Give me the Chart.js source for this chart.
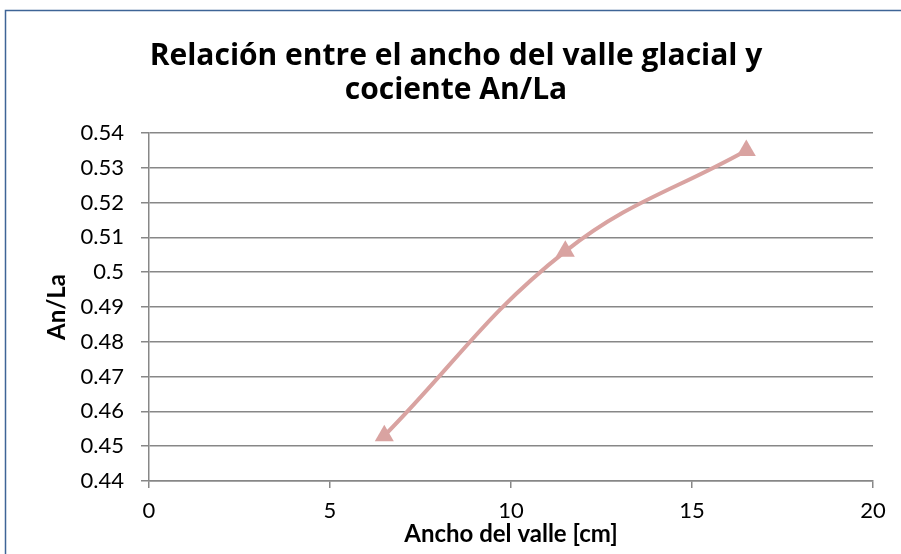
<!DOCTYPE html>
<html>
<head>
<meta charset="utf-8">
<script src="https://cdn.jsdelivr.net/npm/chart.js@4"></script>
<style>
  html, body { margin: 0; padding: 0; background: #fff; }
  #wrap { width: 901px; height: 554px; }
</style>
</head>
<body>
<div id="wrap"><canvas id="chart" width="901" height="554"></canvas></div>
<script>
// data
const anchoValle = [6.5, 11.5, 16.5];
const cociente = [0.453, 0.506, 0.535];
const xTicks = [0, 5, 10, 15, 20];
const yTicks = [0.44, 0.45, 0.46, 0.47, 0.48, 0.49, 0.5, 0.51, 0.52, 0.53, 0.54];

const lineColor = "#D9A3A1";
const gridColor = "#878787";

// outer frame like the spreadsheet chart box
const framePlugin = {
  id: "frame",
  beforeDraw(chart) {
    const ctx = chart.ctx;
    ctx.save();
    ctx.strokeStyle = "#3E6496";
    ctx.lineWidth = 1.5;
    ctx.strokeRect(5.5, 10.5, 2000, 2000);
    ctx.restore();
  },
};

const ctx = document.getElementById("chart").getContext("2d");
new Chart(ctx, {
  type: "line",
  data: {
    datasets: [
      {
        label: "An/La",
        data: anchoValle.map((x, i) => ({ x: x, y: cociente[i] })),
        borderColor: lineColor,
        backgroundColor: lineColor,
        borderWidth: 4,
        tension: 0.4,
        pointStyle: "triangle",
        pointRadius: 11,
        pointBorderWidth: 0,
      },
    ],
  },
  options: {
    responsive: false,
    animation: false,
    layout: { padding: { top: 30, left: 39, right: 28, bottom: 3 } },
    plugins: {
      legend: { display: false },
      tooltip: { enabled: false },
      title: {
        display: true,
        text: ["Relación entre el ancho del valle glacial y", "cociente An/La"],
        color: "#000",
        font: { family: "Open Sans", size: 30, weight: "bold", lineHeight: 1.15 },
        padding: { top: 9, bottom: 25 },
      },
    },
    scales: {
      x: {
        type: "linear",
        min: 0,
        max: 20,
        afterBuildTicks: (scale) => { scale.ticks = xTicks.map((v) => ({ value: v })); },
        afterFit: (scale) => { scale.height = 70; },
        ticks: {
          color: "#000",
          font: { family: "Lato", size: 22 },
          padding: 10,
          maxRotation: 0,
        },
        grid: { drawOnChartArea: false, color: gridColor, lineWidth: 1.5, tickLength: 7 },
        border: { color: gridColor, width: 1.5 },
        title: {
          display: true,
          text: "Ancho del valle [cm]",
          color: "#000",
          font: { family: "Lato", size: 24, weight: "bold" },
          padding: { top: 0, bottom: 2 },
        },
      },
      y: {
        type: "linear",
        min: 0.44,
        max: 0.54,
        afterBuildTicks: (scale) => { scale.ticks = yTicks.map((v) => ({ value: v })); },
        afterFit: (scale) => { scale.width = 110; },
        ticks: {
          color: "#000",
          font: { family: "Lato", size: 22 },
          padding: 17,
          callback: (v) => String(Math.round(v * 100) / 100),
        },
        grid: { color: gridColor, lineWidth: 1.5, tickLength: 8 },
        border: { color: gridColor, width: 1.5 },
        title: {
          display: true,
          text: "An/La",
          color: "#000",
          font: { family: "Lato", size: 24, weight: "bold" },
          padding: { top: 4, bottom: 0 },
        },
      },
    },
  },
  plugins: [framePlugin],
});
</script>
</body>
</html>
